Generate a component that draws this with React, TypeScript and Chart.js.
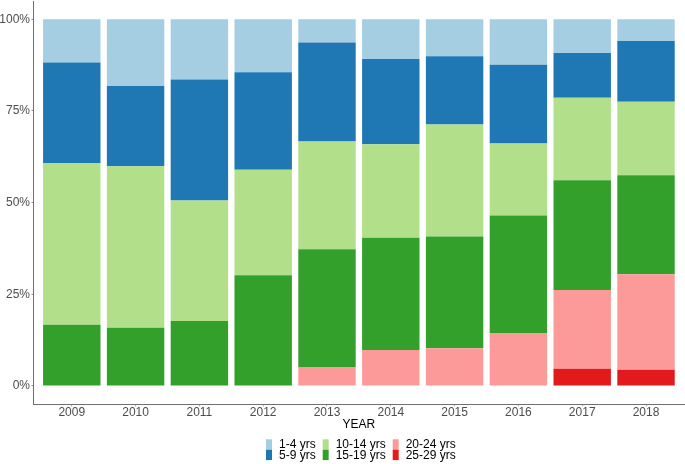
import { useEffect, useRef } from 'react';
import { Chart, registerables } from 'chart.js';

Chart.register(...registerables);

const years = ['2009', '2010', '2011', '2012', '2013', '2014', '2015', '2016', '2017', '2018'];

// stacked bottom -> top
const ageGroups = ['25-29 yrs', '20-24 yrs', '15-19 yrs', '10-14 yrs', '5-9 yrs', '1-4 yrs'];
const groupColors = ['#E31A1C', '#FB9A99', '#33A02C', '#B2DF8A', '#1F78B4', '#A6CEE3'];

const age25to29 = [0, 0, 0, 0, 0, 0, 0, 0, 4.7, 4.4];
const age20to24 = [0, 0, 0, 0, 5.2, 9.8, 10.3, 14.3, 21.5, 26.1];
const age15to19 = [16.7, 15.9, 17.7, 30.2, 32.1, 30.6, 30.5, 32.2, 29.9, 27.0];
const age10to14 = [44.1, 44.0, 32.9, 28.8, 29.4, 25.5, 30.5, 19.6, 22.5, 20.0];
const age5to9 = [27.4, 21.9, 33.0, 26.6, 27.0, 23.3, 18.6, 21.5, 12.2, 16.6];
const age1to4 = [11.8, 18.2, 16.4, 14.4, 6.3, 10.8, 10.1, 12.4, 9.2, 5.9];

const seriesValues = [age25to29, age20to24, age15to19, age10to14, age5to9, age1to4];

const yTickValues = [0, 25, 50, 75, 100];

const FONT = '12px "Liberation Sans", Arial, sans-serif';

const legendPlugin = {
  id: 'ggLegend',
  afterDraw(chart: any) {
    const ctx = chart.ctx as CanvasRenderingContext2D;
    const { left, right } = chart.chartArea;
    ctx.save();
    ctx.font = FONT;
    ctx.fillStyle = '#000000';
    ctx.textAlign = 'center';
    ctx.textBaseline = 'middle';
    ctx.fillText('YEAR', (left + right) / 2, 425);

    const items = chart.data.datasets
      .map((d: any) => ({ label: d.label as string, color: d.backgroundColor as string }))
      .reverse();
    let x = 266;
    for (let c = 0; c < 3; c++) {
      const col = items.slice(c * 2, c * 2 + 2);
      const w = Math.max(...col.map((it: any) => ctx.measureText(it.label).width));
      col.forEach((it: any, r: number) => {
        ctx.fillStyle = it.color;
        ctx.fillRect(x, 439.3 + r * 10.4, 6, 10.4);
        ctx.fillStyle = '#000000';
        ctx.textAlign = 'left';
        ctx.fillText(it.label, x + 13, 444.5 + r * 11);
      });
      x += 13 + w + 7;
    }
    ctx.restore();
  },
};

export default function App() {
  const canvasRef = useRef<HTMLCanvasElement | null>(null);

  useEffect(() => {
    if (!canvasRef.current) return;
    const chart = new Chart(canvasRef.current, {
      type: 'bar',
      data: {
        datasets: ageGroups.map((label, k) => ({
          label,
          data: years.map((_, i) => ({ x: i + 1, y: seriesValues[k][i] })),
          backgroundColor: groupColors[k],
          borderWidth: 0,
          categoryPercentage: 1,
          barPercentage: 0.9,
        })),
      },
      options: {
        animation: false,
        responsive: true,
        maintainAspectRatio: false,
        layout: { padding: { top: 1, right: 0.7, left: 0, bottom: 0 } },
        plugins: {
          legend: { display: false },
          tooltip: { enabled: false },
        },
        scales: {
          x: {
            type: 'linear',
            stacked: true,
            offset: false,
            min: 0.4,
            max: 10.6,
            afterBuildTicks: (axis: any) => {
              axis.ticks = years.map((_, i) => ({ value: i + 1 }));
            },
            afterFit: (scale: any) => {
              scale.height = 59.7;
              scale.paddingLeft = 0;
              scale.paddingRight = 0;
            },
            grid: { offset: false, drawOnChartArea: false, drawTicks: true, tickLength: 2, color: '#b0b0b0' },
            border: { display: true, color: '#707070', width: 1 },
            ticks: {
              autoSkip: false,
              maxRotation: 0,
              padding: -1,
              color: '#4D4D4D',
              font: { family: '"Liberation Sans", Arial, sans-serif', size: 12 },
              callback: (v: any) => years[Math.round(Number(v)) - 1] ?? '',
            },
          },
          y: {
            type: 'linear',
            stacked: true,
            min: -5,
            max: 105,
            afterBuildTicks: (axis: any) => {
              axis.ticks = yTickValues.map((v) => ({ value: v }));
            },
            afterFit: (scale: any) => {
              scale.width = 33.5;
              scale.paddingTop = 0;
              scale.paddingBottom = 0;
            },
            grid: { drawOnChartArea: false, drawTicks: true, tickLength: 2, color: '#909090' },
            border: { display: true, color: '#707070', width: 1 },
            ticks: {
              padding: 1.5,
              color: '#4D4D4D',
              font: { family: '"Liberation Sans", Arial, sans-serif', size: 12 },
              callback: (v: any) => `${v}%`,
            },
          },
        },
      },
      plugins: [legendPlugin],
    });
    return () => chart.destroy();
  }, []);

  return (
    <div style={{ position: 'fixed', left: 0, top: 0, width: 685, height: 464, background: '#ffffff' }}>
      <canvas ref={canvasRef} />
    </div>
  );
}
